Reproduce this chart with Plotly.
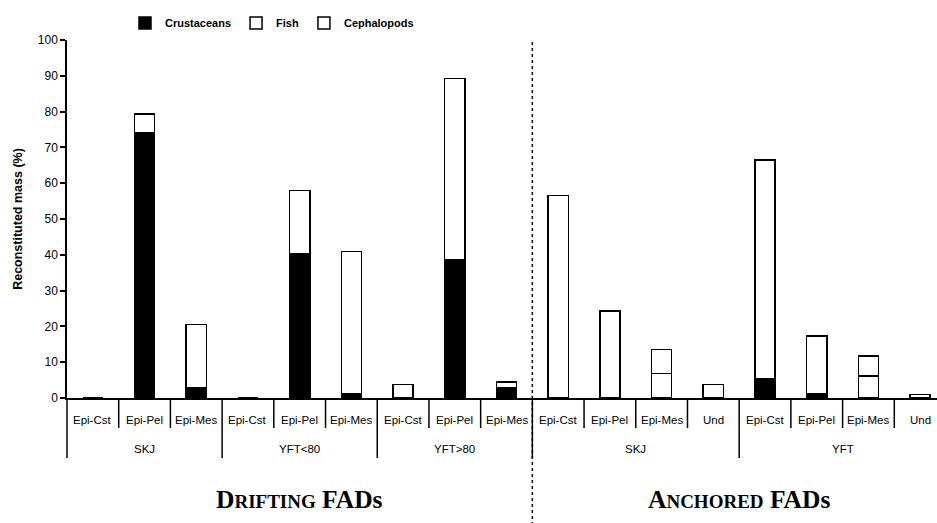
import plotly.graph_objects as go

# ---------------- data ----------------
fad_types = ["Drifting FADs", "Anchored FADs"]
fad_counts = [9, 8]
groups = ["SKJ", "SKJ", "SKJ", "YFT<80", "YFT<80", "YFT<80", "YFT>80", "YFT>80", "YFT>80",
          "SKJ ", "SKJ ", "SKJ ", "SKJ ", "YFT", "YFT", "YFT", "YFT"]
prey_zones = ["Epi-Cst", "Epi-Pel", "Epi-Mes"] * 3 + ["Epi-Cst", "Epi-Pel", "Epi-Mes", "Und"] * 2
crustaceans = [0, 74.0, 3.0, 0, 40.2, 1.3, 0, 38.5, 2.9, 0, 0, 0, 0, 5.5, 1.2, 0, 0]
fish = [0, 5.4, 17.5, 0, 17.8, 39.6, 3.8, 50.7, 1.6, 56.6, 24.3, 6.9, 3.8, 61.0, 16.1, 6.1, 1.0]
cephalopods = [0, 0, 0, 0, 0, 0, 0, 0, 0, 0, 0, 6.7, 0, 0, 0, 5.6, 0]
y_ticks = [0, 10, 20, 30, 40, 50, 60, 70, 80, 90, 100]

# ---------------- layout constants ----------------
OFF = 0
W, H = 946, 523              # plot area runs slightly past the window's right edge
ML, MR, MT, MB = 67, 0, 40, 125
PH = H - MT - MB
n = len(prey_zones)
SANS = "Liberation Sans, Arial, sans-serif"
SERIF = "Liberation Serif, Times New Roman, serif"


def py(abs_y):
    """absolute page pixel y -> paper y"""
    return (OFF + H - MB - abs_y) / PH


x = [groups, prey_zones]
line = dict(color="black", width=1.5)

fig = go.Figure()
fig.add_trace(go.Bar(x=x, y=crustaceans, name="<b>Crustaceans</b>",
                     marker=dict(color="black", line=line), width=0.39))
fig.add_trace(go.Bar(x=x, y=fish, name="<b>Fish</b>",
                     marker=dict(color="white", line=line), width=0.39))
fig.add_trace(go.Bar(x=x, y=cephalopods, name="<b>Cephalopods</b>",
                     marker=dict(color="white", line=line), width=0.39))

shapes = []
annotations = []

group_starts = [0]
for i in range(1, n):
    if groups[i] != groups[i - 1]:
        group_starts.append(i)
for i in range(n):
    y_end = py(458) if i in group_starts else py(428)
    shapes.append(dict(type="line", xref="paper", yref="paper",
                       x0=i / n, x1=i / n, y0=0, y1=y_end,
                       line=dict(color="black", width=1.5)))
    annotations.append(dict(text=prey_zones[i], xref="paper", yref="paper",
                            x=(i + 0.5) / n, y=py(420), showarrow=False,
                            xanchor="center", yanchor="middle",
                            font=dict(family=SANS, size=11.5, color="black")))
bounds = group_starts + [n]
for a, b in zip(bounds[:-1], bounds[1:]):
    annotations.append(dict(text=groups[a].strip(), xref="paper", yref="paper",
                            x=(a + b) / 2 / n, y=py(449), showarrow=False,
                            xanchor="center", yanchor="middle",
                            font=dict(family=SANS, size=11.5, color="black")))

sep = fad_counts[0] / n
shapes.append(dict(type="line", xref="paper", yref="paper",
                   x0=sep, x1=sep, y0=py(42), y1=py(530),
                   line=dict(color="black", width=1.5, dash="dot")))

start = 0
for name, cnt in zip(fad_types, fad_counts):
    center = (start + cnt / 2) / n
    word, rest = name.split(" ")
    txt = word[0] + '<span style="font-size:19px">' + word[1:].upper() + '</span> ' + rest
    annotations.append(dict(text="<b>" + txt + "</b>", xref="paper", yref="paper",
                            x=center, y=py(500), showarrow=False,
                            xanchor="center", yanchor="middle",
                            font=dict(family=SERIF, size=25.5, color="black")))
    start += cnt

fig.update_layout(
    width=W, height=H,
    margin=dict(l=ML, r=MR, t=MT, b=MB, pad=0),
    paper_bgcolor="white", plot_bgcolor="white",
    barmode="stack",
    showlegend=True,
    legend=dict(orientation="h", x=(125 - OFF - ML) / (W - ML - MR), xanchor="left",
                y=py(23), yanchor="middle",
                font=dict(family=SANS, size=11, color="black"),
                itemwidth=30, traceorder="normal",
                bgcolor="rgba(0,0,0,0)"),
    xaxis=dict(type="multicategory", range=[-0.5, n - 0.5],
               showline=True, linecolor="black", linewidth=1.5,
               ticks="", showdividers=False, showgrid=False,
               showticklabels=False),
    yaxis=dict(range=[0, 100], tickvals=y_ticks, showline=True, linecolor="black",
               linewidth=1.5, ticks="outside", ticklen=5, tickcolor="black",
               tickwidth=1.5, showgrid=False, zeroline=False,
               tickfont=dict(family=SANS, size=12, color="black"),
               title=dict(text="<b>Reconstituted mass (%)</b>", standoff=12,
                          font=dict(family=SANS, size=12.5, color="black"))),
    shapes=shapes,
    annotations=annotations,
)

post = ("document.documentElement.style.overflow='hidden';"
        "document.body.style.margin='0';document.body.style.overflow='hidden';")
fig.write_html("out.html", post_script=post, config={"displayModeBar": False})
